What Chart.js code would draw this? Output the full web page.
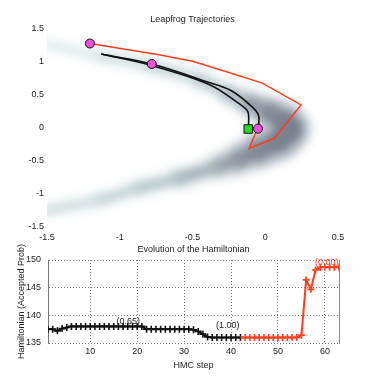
<!DOCTYPE html>
<html><head><meta charset="utf-8">
<script src="https://cdn.jsdelivr.net/npm/chart.js@4.4.1/dist/chart.umd.min.js"></script>
<style>
html,body{margin:0;padding:0;background:#fff;}
#wrap{position:relative;width:374px;height:385px;overflow:hidden;background:#fff;}
canvas{position:absolute;left:0;}
#c1{top:0;} #c2{top:240px;}
</style></head><body>
<div id="wrap"><canvas id="c1" width="374" height="245"></canvas><canvas id="c2" width="374" height="145"></canvas></div>
<script>
// ---------- top panel data ----------
const xTicksTop = [-1.5, -1, -0.5, 0, 0.5];
const yTicksTop = [-1.5, -1, -0.5, 0, 0.5, 1, 1.5];
// ridge of the banana-shaped density
const ridgeX = [-1.62, -1.49, -1.14, -0.80, -0.455, -0.25, -0.10, 0.03, 0.13, 0.17, 0.10, -0.04, -0.18, -0.32, -0.59, -0.87, -1.14, -1.49, -1.62];
const ridgeY = [1.31, 1.26, 1.09, 0.95, 0.73, 0.52, 0.36, 0.23, 0.09, -0.02, -0.18, -0.33, -0.47, -0.58, -0.76, -0.91, -1.09, -1.24, -1.28];
// trajectories
const redX = [-1.205, -0.73, -0.5, -0.25, -0.02, 0.246, 0.062, -0.11, -0.053];
const redY = [1.28, 1.11, 1.01, 0.84, 0.68, 0.35, -0.156, -0.31, 0.0];
const blackUX = [-1.127, -0.78, -0.386, -0.23, -0.09, -0.046, -0.046];
const blackUY = [1.12, 0.97, 0.69, 0.56, 0.32, 0.19, 0.03];
const blackLX = [-1.127, -0.78, -0.386, -0.18, -0.12, -0.115];
const blackLY = [1.12, 0.945, 0.66, 0.37, 0.25, 0.03];
const circleX = [-1.205, -0.78, -0.05];
const circleY = [1.28, 0.97, -0.01];
const squareX = [-0.117];
const squareY = [-0.015];

// ---------- bottom panel data ----------
const xTicksBot = [10, 20, 30, 40, 50, 60];
const yTicksBot = [135, 140, 145, 150];
const blackSteps = [1,2,3,4,5,6,7,8,9,10,11,12,13,14,15,16,17,18,19,20,21,22,23,24,25,26,27,28,29,30,31,32,33,34,35,36,37,38,39,40,41,42];
const blackH = [137.5,137.5,137.2,137.6,137.8,138.0,138.0,138.0,138.0,138.0,138.0,138.0,138.0,138.0,138.0,138.0,138.0,138.0,138.0,138.0,138.0,137.5,137.5,137.5,137.5,137.5,137.5,137.5,137.5,137.5,137.5,137.4,137.1,136.6,136.1,136.0,136.0,136.0,136.0,136.0,136.0,136.0];
const redSteps = [42,43,44,45,46,47,48,49,50,51,52,53,54,55,56,57,58,59,60,61,62,63];
const redH = [136.0,136.0,136.0,136.0,136.0,136.0,136.0,136.0,136.0,136.0,136.0,136.0,136.0,136.4,146.4,144.7,148.2,148.7,148.7,148.7,148.7,148.7];
const noteX = [18.1, 39.3, 60.4];
const noteY = [138.85, 138.25, 149.5];
const noteText = ['(0.65)', '(1.00)', '(0.00)'];

// ---------- styles ----------
const haloW = [4,7,10,12,14,18,24,30,34,36,34,28,22,18,14,12,10,7,4];
const coreW = [2,3,4,5,6,8,12,16,20,20,18,14,10,8,6,5,4,3,2];
const coreC = ['#dbe7e7','#cfdfdf','#c2d5d5','#b8cccd','#adbfc2','#a0adb5','#8f98a4','#838b98','#7b8391','#7a8290','#7b8391','#838b98','#8f98a4','#9eadb3','#a8bdbf','#b2c8c9','#bed2d2','#cfdfdf','#dbe7e7'];
const haloC = ['#eaf1f1','#e6eeee','#e0eaea','#dbe6e6','#d5e0e1','#ccd6d9','#c1c9cf','#b8c0c9','#b3bbc5','#b1b9c3','#b3bbc5','#b8c0c9','#c1cacf','#ccd8da','#d5e2e2','#dbe6e6','#e0eaea','#e6eeee','#eaf1f1'];
const FONT = '"Liberation Sans", Arimo, Arial, Helvetica, sans-serif';
Chart.defaults.font.family = FONT;
Chart.defaults.font.size = 9;
Chart.defaults.color = '#222';

const pts = (xs, ys) => xs.map((x, i) => ({x: x, y: ys[i]}));

const blurPlugin = {
  id: 'blurPlugin',
  beforeDatasetDraw(chart, args) {
    const ds = chart.data.datasets[args.index];
    chart.ctx.save();
    if (ds.blur) chart.ctx.filter = 'blur(' + ds.blur + 'px)';
  },
  afterDatasetDraw(chart) { chart.ctx.restore(); }
};

const fixed = (w, h) => (s) => { if (w !== null) s.width = w; if (h !== null) s.height = h; };

new Chart(document.getElementById('c1'), {
  type: 'line',
  data: { datasets: [
    { label: 'halo', data: pts(ridgeX, ridgeY), order: 10, blur: 6, clip: 0,
      borderCapStyle: 'round', borderJoinStyle: 'round', tension: 0.3, pointRadius: 0, fill: false,
      borderColor: '#d6e2e2', borderWidth: 20,
      segment: { borderWidth: c => haloW[c.p0DataIndex], borderColor: c => haloC[c.p0DataIndex] } },
    { label: 'core', data: pts(ridgeX, ridgeY), order: 9, blur: 4, clip: 0,
      borderCapStyle: 'round', borderJoinStyle: 'round', tension: 0.3, pointRadius: 0, fill: false,
      borderColor: '#a0a8b0', borderWidth: 10,
      segment: { borderWidth: c => coreW[c.p0DataIndex], borderColor: c => coreC[c.p0DataIndex] } },
    { label: 'lower', data: pts(blackLX, blackLY), order: 5, borderColor: '#111', borderWidth: 1.6,
      tension: 0.35, pointRadius: 0, fill: false },
    { label: 'upper', data: pts(blackUX, blackUY), order: 4, borderColor: '#111', borderWidth: 1.6,
      tension: 0.35, pointRadius: 0, fill: false },
    { label: 'red', data: pts(redX, redY), order: 3, borderColor: '#ff3c1e', borderWidth: 1.5,
      tension: 0, pointRadius: 0, fill: false },
    { label: 'square', data: pts(squareX, squareY), order: 2, showLine: false,
      pointStyle: 'rect', pointRadius: 6, pointBackgroundColor: '#22dd22', pointBorderColor: '#111', pointBorderWidth: 1 },
    { label: 'circles', data: pts(circleX, circleY), order: 1, showLine: false,
      pointStyle: 'circle', pointRadius: 4.5, pointBackgroundColor: '#f24ee0', pointBorderColor: '#111', pointBorderWidth: 1 }
  ]},
  options: {
    responsive: false, animation: false, devicePixelRatio: 1, events: [],
    layout: { padding: { left: 0, right: 36, top: 0, bottom: 0 } },
    plugins: { legend: { display: false }, tooltip: { enabled: false }, title: { display: false } },
    scales: {
      x: { type: 'linear', min: -1.5, max: 0.5,
           afterBuildTicks: s => { s.ticks = xTicksTop.map(v => ({value: v})); },
           afterFit: fixed(null, 18),
           grid: { display: false, drawTicks: false }, border: { display: false },
           ticks: { padding: 5, callback: v => String(v), maxRotation: 0, autoSkip: false, font: { size: 9 } } },
      xt: { type: 'linear', position: 'top', min: -1.5, max: 0.5,
           afterFit: fixed(null, 29),
           grid: { display: false, drawTicks: false }, border: { display: false },
           ticks: { display: false },
           title: { display: true, text: 'Leapfrog Trajectories', font: { size: 9 }, color: '#222', padding: { top: 14.6, bottom: 0 } } },
      y: { type: 'linear', min: -1.5, max: 1.5,
           afterBuildTicks: s => { s.ticks = yTicksTop.map(v => ({value: v})); },
           afterFit: fixed(47, null),
           grid: { display: false, drawTicks: false }, border: { display: false },
           ticks: { padding: 3, callback: v => String(v), autoSkip: false, font: { size: 9 } } }
    }
  },
  plugins: [blurPlugin]
});

const notePlugin = {
  id: 'notePlugin',
  afterDatasetsDraw(chart) {
    const ctx = chart.ctx, xs = chart.scales.x, ys = chart.scales.y;
    ctx.save();
    ctx.font = '9px ' + FONT;
    ctx.textAlign = 'center'; ctx.textBaseline = 'middle';
    noteText.forEach((t, i) => {
      ctx.fillStyle = i === 2 ? '#ff3c1e' : '#222';
      ctx.fillText(t, xs.getPixelForValue(noteX[i]), ys.getPixelForValue(noteY[i]));
    });
    ctx.restore();
  }
};

const gridStyle = { color: '#777', lineWidth: 1, drawTicks: false };

new Chart(document.getElementById('c2'), {
  type: 'line',
  data: { datasets: [
    { label: 'accepted', data: pts(blackSteps, blackH), borderColor: '#111', borderWidth: 2, tension: 0,
      pointStyle: 'cross', pointRadius: 3.5, pointBorderWidth: 1.6, pointBorderColor: '#111', fill: false, order: 2 },
    { label: 'rejected', data: pts(redSteps, redH), borderColor: '#ff3c1e', borderWidth: 2, tension: 0,
      pointStyle: 'cross', pointRadius: c => c.dataIndex === 0 ? 0 : 3.5, pointBorderWidth: 1.6,
      pointBorderColor: '#ff3c1e', fill: false, order: 1 }
  ]},
  options: {
    responsive: false, animation: false, devicePixelRatio: 1, events: [],
    layout: { padding: { left: 0, right: 35, top: 0, bottom: 0 } },
    plugins: { legend: { display: false }, tooltip: { enabled: false }, title: { display: false } },
    scales: {
      x: { type: 'linear', min: 1, max: 63,
           afterBuildTicks: s => { s.ticks = xTicksBot.map(v => ({value: v})); },
           afterFit: fixed(null, 42),
           grid: gridStyle, border: { display: false, dash: [1, 2] },
           ticks: { padding: 3, callback: v => String(v), maxRotation: 0, autoSkip: false, font: { size: 9 } },
           title: { display: true, text: 'HMC step', font: { size: 9 }, color: '#222', padding: { top: 0, bottom: 13.6 } } },
      xt: { type: 'linear', position: 'top', min: 1, max: 63,
           afterFit: fixed(null, 20),
           grid: { display: false, drawTicks: false }, border: { display: false },
           ticks: { display: false },
           title: { display: true, text: 'Evolution of the Hamiltonian', font: { size: 9 }, color: '#222', padding: { top: 4.6, bottom: 0 } } },
      y: { type: 'linear', min: 135, max: 150,
           afterBuildTicks: s => { s.ticks = yTicksBot.map(v => ({value: v})); },
           afterFit: fixed(48, null),
           grid: gridStyle, border: { display: true, color: '#777', dash: [1, 2] },
           ticks: { padding: 7, callback: v => String(v), autoSkip: false, font: { size: 9 } },
           title: { display: true, text: 'Hamiltonian (Accepted Prob)', font: { size: 9 }, color: '#222', padding: { top: 16.6, bottom: 0 } } },
      y2: { type: 'linear', position: 'right', min: 135, max: 150, display: true,
           afterFit: fixed(0, null),
           grid: { display: false, drawTicks: false }, border: { display: true, color: '#888', width: 1 },
           ticks: { display: false } }
    }
  },
  plugins: [notePlugin]
});
</script>
</body></html>
